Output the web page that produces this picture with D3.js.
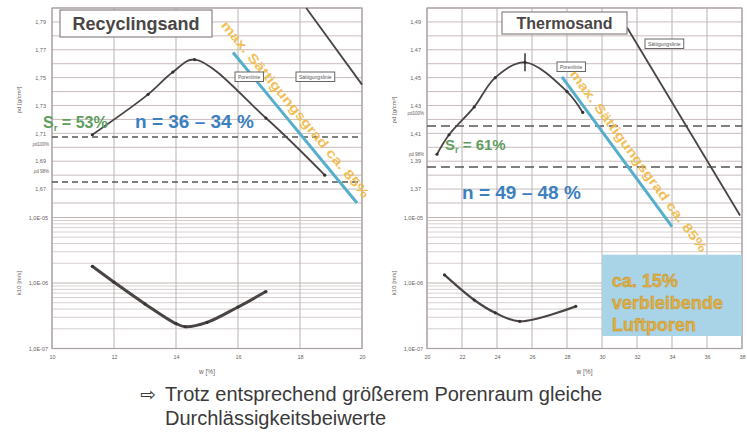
<!DOCTYPE html>
<html><head><meta charset="utf-8">
<script src="https://cdn.jsdelivr.net/npm/d3@7"></script>
<style>body{margin:0;background:#fff}svg{display:block;font-family:"Liberation Sans",Arial,sans-serif}</style>
</head><body><svg id="c" width="747" height="432"></svg>
<script>
// ---------- data ----------
const recW      = [11.3, 13.1, 13.9, 14.6, 16.9, 18.8];
const recRho    = [1.709, 1.738, 1.754, 1.763, 1.721, 1.680];
const recKW     = [11.3, 12, 13, 14, 14.3, 15, 16, 16.9];
const recK      = [1.8e-6, 1.03e-6, 4.8e-7, 2.4e-7, 2.15e-7, 2.5e-7, 4.3e-7, 7.4e-7];
const recSatW   = [18.2, 20];
const recSatRho = [1.80, 1.745];
const recPoreW  = [15.84, 19.84];
const recPoreRho= [1.768, 1.66];
const recDashed = [1.7074, 1.6751];

const thW       = [20.57, 21.26, 22.7, 23.9, 25.6, 28.0, 28.9];
const thRho     = [1.395, 1.409, 1.429, 1.450, 1.461, 1.440, 1.425];
const thKW      = [21.0, 22.7, 23.9, 25.3, 28.5];
const thK       = [1.33e-6, 5.5e-7, 3.5e-7, 2.6e-7, 4.4e-7];
const thSatW    = [31.43, 37.89];
const thSatRho  = [1.486, 1.351];
const thPoreW   = [27.71, 34.0];
const thPoreRho = [1.4505, 1.343];
const thDashed  = [1.4153, 1.3859];

const recWTicks   = [10, 12, 14, 16, 18, 20];
const thWTicks    = [20, 22, 24, 26, 28, 30, 32, 34, 36, 38];
const recRhoTicks = [1.67, 1.69, 1.71, 1.73, 1.75, 1.77, 1.79];
const thRhoTicks  = [1.37, 1.39, 1.41, 1.43, 1.45, 1.47, 1.49];
const kTicks      = [1e-7, 1e-6, 1e-5];

// ---------- layout ----------
const yTop = 8, yMid = 203, yLogTop = 217.5, yBottom = 348.5;
const svg = d3.select("#c");
const gridCol = "#c8bcbc", curveCol = "#4a4444";
const fmtRho = d => d3.format(".2f")(d).replace(".", ",");
const fmtK = d => "1,0E-0" + Math.round(-Math.log10(d));

function panel(o) {
  const x = d3.scaleLinear(o.wDom, [o.x0, o.x1]);
  const rho = d3.scaleLinear(o.rhoDom, [yMid, yTop]);
  const k = d3.scaleLog([1e-7, 1e-5], [yBottom, yLogTop]);
  const g = svg.append("g");

  const rhoGrid = d3.range(0, 15).map(i => o.rhoDom[0] + i * 0.01);
  g.selectAll(".hg").data(rhoGrid).join("line")
    .attr("x1", o.x0).attr("x2", o.x1)
    .attr("y1", d => rho(d)).attr("y2", d => rho(d))
    .attr("stroke", gridCol).attr("stroke-width", 1);
  g.selectAll(".lg").data(k.ticks()).join("line")
    .attr("x1", o.x0).attr("x2", o.x1)
    .attr("y1", d => k(d)).attr("y2", d => k(d))
    .attr("stroke", d => kTicks.includes(d) ? "#b8acac" : "#d3caca").attr("stroke-width", 0.9);
  g.selectAll(".vg").data(o.wTicks).join("line")
    .attr("x1", d => x(d)).attr("x2", d => x(d))
    .attr("y1", yTop).attr("y2", yBottom)
    .attr("stroke", "#bdb3b3").attr("stroke-width", 1);
  g.append("rect").attr("x", o.x0).attr("y", yTop).attr("width", o.x1 - o.x0).attr("height", yBottom - yTop)
    .attr("fill", "none").attr("stroke", "#a9a0a0").attr("stroke-width", 1.2);

  const ax1 = g.append("g").attr("transform", `translate(${o.x0},0)`)
    .call(d3.axisLeft(rho).tickValues(o.rhoTicks).tickFormat(fmtRho).tickSize(0).tickPadding(6));
  const ax2 = g.append("g").attr("transform", `translate(${o.x0},0)`)
    .call(d3.axisLeft(k).tickValues(kTicks).tickFormat(fmtK).tickSize(0).tickPadding(4));
  const ax3 = g.append("g").attr("transform", `translate(0,${yBottom})`)
    .call(d3.axisBottom(x).tickValues(o.wTicks).tickFormat(d3.format("d")).tickSize(0).tickPadding(7));
  [ax1, ax2, ax3].forEach(a => {
    a.select(".domain").remove();
    a.selectAll("text").attr("font-size", 5.5).attr("fill", "#6a6262").attr("font-family", "Liberation Sans, Arial");
  });
  g.append("text").attr("x", (o.x0 + o.x1) / 2).attr("y", 374).attr("text-anchor", "middle")
    .attr("font-size", 6.5).attr("fill", "#6a6262").text("w [%]");
  g.append("text").attr("transform", `translate(${o.x0 - 31},${o.rhoLabY}) rotate(-90)`).attr("text-anchor", "middle")
    .attr("font-size", 6).attr("fill", "#6a6262").text("ρd [g/cm³]");
  g.append("text").attr("transform", `translate(${o.x0 - 31},283) rotate(-90)`).attr("text-anchor", "middle")
    .attr("font-size", 6).attr("fill", "#6a6262").text("k10 [m/s]");

  g.selectAll(".dl").data(o.dashed).join("line")
    .attr("x1", o.x0).attr("x2", o.x1).attr("y1", d => rho(d)).attr("y2", d => rho(d))
    .attr("stroke", "#555").attr("stroke-width", 1.6).attr("stroke-dasharray", o.dash);
  o.dashed.forEach((d, i) => {
    g.append("text").attr("x", o.x0 - 3).attr("y", rho(d) + o.dashLabOff[i]).attr("text-anchor", "end")
      .attr("font-size", 4.5).attr("fill", "#6a6262").text(i === 0 ? "ρd100%" : "ρd 98%");
  });

  const ln = d3.line().x(d => x(d[0])).y(d => rho(d[1]));
  g.append("path").attr("d", ln(d3.zip(o.satW, o.satRho))).attr("fill", "none")
    .attr("stroke", curveCol).attr("stroke-width", 1.8);

  const pp = d3.zip(o.poreW, o.poreRho);
  g.append("path").attr("d", ln(pp)).attr("fill", "none").attr("stroke", "#55aecb").attr("stroke-width", 3);

  const p0 = [x(pp[0][0]), rho(pp[0][1])], p1 = [x(pp[1][0]), rho(pp[1][1])];
  const dx = p1[0] - p0[0], dy = p1[1] - p0[1], L = Math.hypot(dx, dy);
  const u = [dx / L, dy / L], n = [u[1], -u[0]];
  const tx = p0[0] + u[0] * o.annAlong + n[0] * o.annPerp, ty = p0[1] + u[1] * o.annAlong + n[1] * o.annPerp;
  g.append("text").attr("transform", `translate(${tx},${ty}) rotate(${Math.atan2(dy, dx) * 180 / Math.PI})`)
    .attr("dominant-baseline", "central").attr("font-size", 13).attr("font-weight", "bold")
    .attr("fill", "#f1b948").attr("opacity", 0.9)
    .attr("textLength", o.annLen).attr("lengthAdjust", "spacingAndGlyphs")
    .text("max. Sättigungsgrad ca. 85%");

  const cl = d3.line().x(d => x(d[0])).y(d => rho(d[1])).curve(d3.curveCatmullRom.alpha(0.5));
  const pc = d3.zip(o.w, o.rho);
  g.append("path").attr("d", cl(pc)).attr("fill", "none").attr("stroke", curveCol).attr("stroke-width", 1.8);
  g.selectAll(".pm").data(pc).join("circle").attr("cx", d => x(d[0])).attr("cy", d => rho(d[1]))
    .attr("r", 1.6).attr("fill", "#333");
  if (o.peakMark) {
    const pk = pc[d3.maxIndex(pc, d => d[1])];
    g.append("line").attr("x1", x(pk[0])).attr("x2", x(pk[0])).attr("y1", rho(pk[1]) - 9).attr("y2", rho(pk[1]) + 9)
      .attr("stroke", "#333").attr("stroke-width", 1.5);
  }

  const kl = d3.line().x(d => x(d[0])).y(d => k(d[1])).curve(d3.curveCatmullRom.alpha(0.5));
  const kc = d3.zip(o.kw, o.k);
  g.append("path").attr("d", kl(kc)).attr("fill", "none").attr("stroke", curveCol).attr("stroke-width", o.kWidth);
  g.selectAll(".km").data(kc).join("circle").attr("cx", d => x(d[0])).attr("cy", d => k(d[1]))
    .attr("r", 1.6).attr("fill", "#333");

  function smallBox(px, py, txt) {
    const t = g.append("text").attr("x", px + 3).attr("y", py + 6.5).attr("font-size", 5).attr("fill", "#555").text(txt);
    const b = t.node().getBBox();
    g.insert("rect", () => t.node()).attr("x", px).attr("y", py).attr("width", b.width + 6).attr("height", 9.5)
      .attr("fill", "#fff").attr("stroke", "#666").attr("stroke-width", 1);
  }
  smallBox(o.poreBox[0], o.poreBox[1], "Porenlinie");
  smallBox(o.satBox[0], o.satBox[1], "Sättigungslinie");

  const tt = g.append("text").attr("x", o.title[0] + o.title[2] / 2).attr("y", o.title[1] + o.title[3] / 2 + o.titleSize * 0.36)
    .attr("text-anchor", "middle").attr("font-size", o.titleSize).attr("font-weight", "bold").attr("fill", "#4a4646").text(o.name);
  g.insert("rect", () => tt.node()).attr("x", o.title[0]).attr("y", o.title[1]).attr("width", o.title[2]).attr("height", o.title[3])
    .attr("fill", "#fff").attr("stroke", "#8a8484").attr("stroke-width", 1.2);

  const sr = g.append("text").attr("x", o.srPos[0]).attr("y", o.srPos[1]).attr("font-size", o.srSize)
    .attr("font-weight", "bold").attr("fill", "#5f9e5f");
  sr.append("tspan").text("S");
  sr.append("tspan").attr("font-size", o.srSize * 0.6).attr("dy", 3).text("r");
  sr.append("tspan").attr("dy", -3).text(" = " + o.srText);
  g.append("text").attr("x", o.nPos[0]).attr("y", o.nPos[1]).attr("font-size", 19).attr("font-weight", "bold")
    .attr("fill", "#3d80bf").text(o.nText);

  return {x, rho, k, g};
}

panel({name: "Recyclingsand", x0: 52, x1: 362, wDom: [10, 20], rhoDom: [1.66, 1.80],
  wTicks: recWTicks, rhoTicks: recRhoTicks, w: recW, rho: recRho, kw: recKW, k: recK,
  satW: recSatW, satRho: recSatRho, poreW: recPoreW, poreRho: recPoreRho, dashed: recDashed,
  dash: "6,4", dashLabOff: [9, -9], rhoLabY: 100, annAlong: -29, annPerp: 12, annLen: 225,
  poreBox: [235, 72], satBox: [296, 72], title: [60, 10, 152, 27], titleSize: 18,
  srPos: [43, 128], srSize: 16, srText: "53%", nPos: [135, 128], nText: "n = 36 – 34 %",
  peakMark: false, kWidth: 3});

const R = panel({name: "Thermosand", x0: 427, x1: 742, wDom: [20, 38], rhoDom: [1.36, 1.50],
  wTicks: thWTicks, rhoTicks: thRhoTicks, w: thW, rho: thRho, kw: thKW, k: thK,
  satW: thSatW, satRho: thSatRho, poreW: thPoreW, poreRho: thPoreRho, dashed: thDashed,
  dash: "9,5", dashLabOff: [-11, -11], rhoLabY: 110, annAlong: 2, annPerp: 12, annLen: 222,
  poreBox: [557, 62], satBox: [645, 39], title: [502, 12, 125, 22], titleSize: 16,
  srPos: [445, 150], srSize: 15, srText: "61%", nPos: [462, 199], nText: "n = 49 – 48 %",
  peakMark: true, kWidth: 2.2});

const bx0 = R.x(30), bx1 = R.x(38), by0 = R.k(2.7e-6), by1 = R.k(1.55e-7);
R.g.append("rect").attr("x", bx0).attr("y", by0).attr("width", bx1 - bx0).attr("height", by1 - by0).attr("fill", "#a9d3e6");
["ca. 15%", "verbleibende", "Luftporen"].forEach((t, i) => {
  R.g.append("text").attr("x", bx0 + 10).attr("y", by0 + 32 + i * 22).attr("font-size", 18).attr("font-weight", "bold")
    .attr("fill", "#e2b040").attr("stroke", "#c28f2e").attr("stroke-width", 0.4).text(t);
});

svg.append("text").attr("x", 140).attr("y", 401).attr("font-size", 19).attr("fill", "#3a3a3a")
  .attr("font-family", "DejaVu Sans").text("⇨");
svg.append("text").attr("x", 165).attr("y", 401).attr("font-size", 20).attr("fill", "#3a3a3a")
  .text("Trotz entsprechend größerem Porenraum gleiche");
svg.append("text").attr("x", 165).attr("y", 425).attr("font-size", 20).attr("fill", "#3a3a3a")
  .text("Durchlässigkeitsbeiwerte");
</script></body></html>
